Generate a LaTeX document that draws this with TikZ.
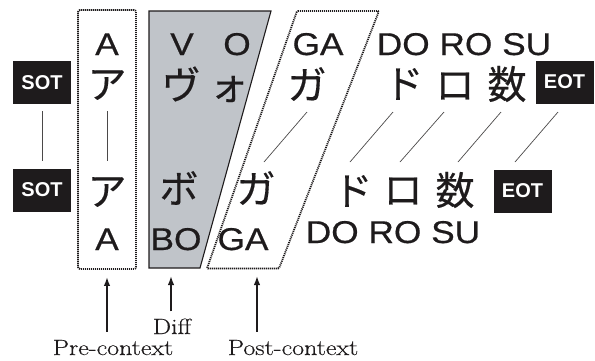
\documentclass[tikz,border=0pt]{standalone}
\usepackage{fontspec}
\usepackage{graphicx}
\newfontfamily\latsans[FakeBold=0.5]{Liberation Sans}
\newfontfamily\tagsans{Liberation Sans}
\newfontfamily\jpsans[FakeBold=0.4]{Noto Sans CJK JP}
\newfontfamily\capserif[FakeBold=0.3]{Latin Modern Roman}
\usetikzlibrary{arrows.meta}
\definecolor{ink}{RGB}{30,27,28}
\definecolor{diffgray}{RGB}{192,196,201}
% romanisation is set a little wider than the plain sans face
\newcommand{\widesans}[1]{\scalebox{1.12}[1]{#1}}
\newcommand{\widecap}[1]{\scalebox{1.18}[1]{#1}}

\begin{document}
\begin{tikzpicture}[x=1pt,y=-1pt,
  lat/.style={font=\latsans\fontsize{31.5}{33}\selectfont, text=ink, inner sep=0pt, anchor=base},
  kana/.style={font=\jpsans\fontsize{39}{40}\selectfont, text=ink, inner sep=0pt},
  tagbox/.style={fill=ink, text=white, font=\tagsans\bfseries\fontsize{20}{22}\selectfont,
                 minimum width=58pt, minimum height=43pt, inner sep=0pt},
  link/.style={draw=ink!80, line width=0.7pt},
  dotbox/.style={draw=ink, line width=1.8pt, dash pattern=on 1.1pt off 0.9pt},
  pointer/.style={draw=ink, line width=1.6pt, -{Latex[length=9pt,width=6.5pt]}},
  caption/.style={font=\capserif\fontsize{22}{24}\selectfont, text=ink, inner sep=0pt, anchor=base}
]
\useasboundingbox (0,0) rectangle (595,360);

% context frames
\node[dotbox, rounded corners=2pt, minimum width=58pt, minimum height=259pt, inner sep=0pt]
  (prebox) at (107,139.5) {};
\draw[draw=ink, line width=1.1pt, fill=diffgray] (149,11) -- (271,11) -- (200,268) -- (149,268) -- cycle;
\draw[dotbox, rounded corners=1pt] (297,11) -- (379,11) -- (279,268.5) -- (207,268.5) -- cycle;
\coordinate (diffbase) at (171,268);
\coordinate (postbase) at (257,269);

% start / end of text markers
\node[tagbox] (sot1) at (42,82.5) {SOT};
\node[tagbox] (sot2) at (42,190) {SOT};
\node[tagbox] (eot1) at (564.5,82) {EOT};
\node[tagbox] (eot2) at (522.5,191) {EOT};

% upper string: romanisation
\node[lat] (rA1) at (107,55) {\widesans{A}};
\node[lat] (rV1) at (182,55) {\widesans{V}};
\node[lat] (rO1) at (237,55) {\widesans{O}};
\node[lat] (rGA1) at (318,55) {\widesans{GA}};
\node[lat] (rDRS1) at (464,55) {\widesans{DO RO SU}};

% upper string: kana
\node[kana] (kA1) at (107,85) {ア};
\node[kana] (kVu1) at (181,84) {ヴ};
\node[kana] (kO1) at (229,89) {ォ};
\node[kana] (kGA1) at (307,84) {ガ};
\node[kana] (kDO1) at (404,84) {ド};
\node[kana] (kRO1) at (455,86) {ロ};
\node[kana] (kSU1) at (507,84) {数};

% lower string: kana
\node[kana] (kA2) at (107,192) {ア};
\node[kana] (kBO2) at (179,188) {ボ};
\node[kana] (kGA2) at (256,188) {ガ};
\node[kana] (kDO2) at (353,191) {ド};
\node[kana] (kRO2) at (403,191) {ロ};
\node[kana] (kSU2) at (455,190) {数};

% lower string: romanisation
\node[lat] (rA2) at (107,250) {\widesans{A}};
\node[lat] (rBO2) at (176,250) {\widesans{BO}};
\node[lat] (rGA2) at (243,250) {\widesans{GA}};
\node[lat] (rDRS2) at (393,243) {\widesans{DO RO SU}};

% alignment links
\draw[link, shorten <=7pt, shorten >=7.5pt] (sot1) -- (sot2);
\coordinate (pa1) at (107,111); \coordinate (pa2) at (107,161);
\draw[link] (pa1) -- (pa2);
\coordinate (ga1) at (307,112); \coordinate (ga2) at (264,162);
\coordinate (do1) at (393,112); \coordinate (do2) at (350,162);
\coordinate (ro1) at (444,112); \coordinate (ro2) at (400,162);
\coordinate (su1) at (501,112); \coordinate (su2) at (458,162);
\coordinate (eo1) at (558,112); \coordinate (eo2) at (515,162);
\foreach \p in {ga,do,ro,su,eo} \draw[link] (\p1) -- (\p2);

% captions
\node[caption] (precap) at (113,355) {\widecap{Pre-context}};
\node[caption] (diffcap) at (172,334) {\widecap{Diff}};
\node[caption] (postcap) at (293,355) {\widecap{Post-context}};

\draw[pointer, shorten <=8pt, shorten >=7pt] (precap.north -| prebox.south) -- (prebox.south);
\draw[pointer, shorten <=7pt, shorten >=8pt] (diffcap.north -| diffbase) -- (diffbase);
\draw[pointer, shorten <=8pt, shorten >=7pt] (postcap.north -| postbase) -- (postbase);
\end{tikzpicture}
\end{document}
